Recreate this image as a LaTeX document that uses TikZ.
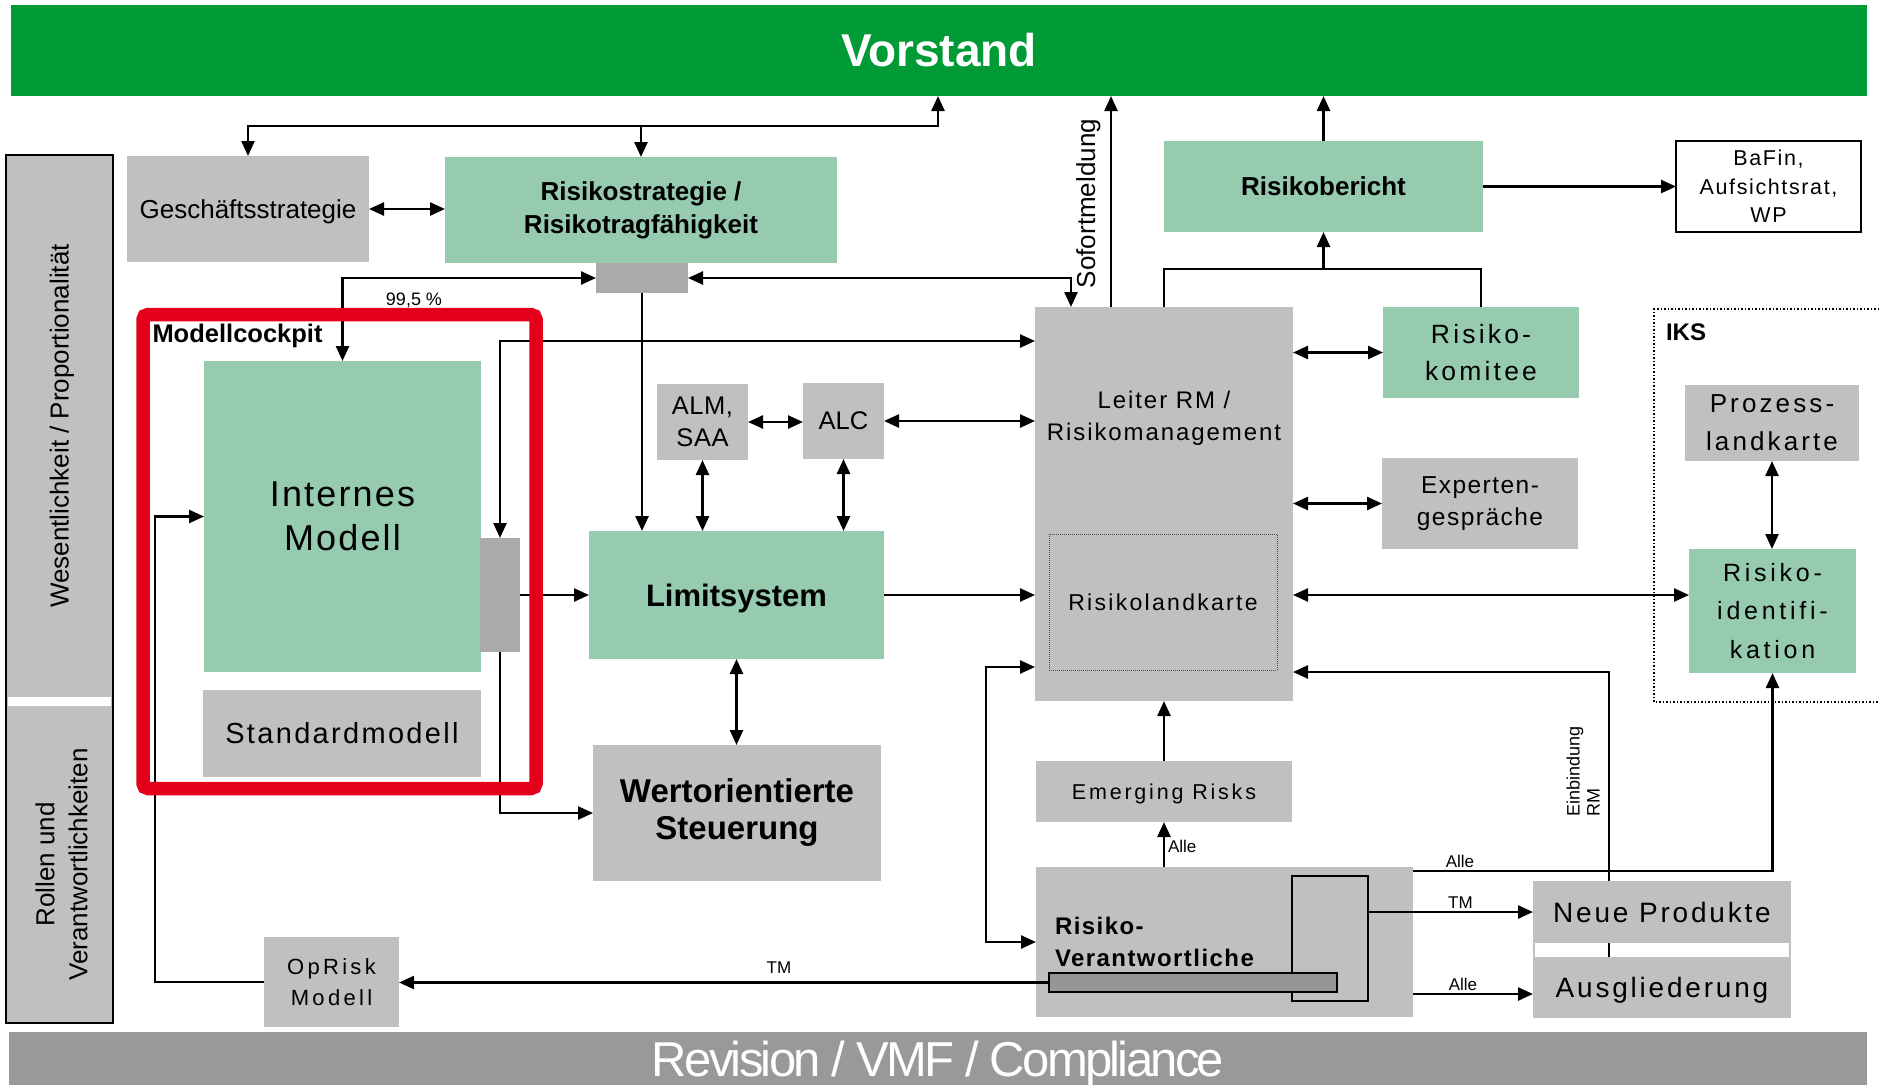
\documentclass[tikz,border=0pt]{standalone}
\usepackage{fontspec}
\setmainfont{Liberation Sans}
\usetikzlibrary{arrows.meta,backgrounds}
\definecolor{vgreen}{RGB}{0,154,54}
\definecolor{lgreen}{RGB}{150,203,176}
\definecolor{lgray}{RGB}{192,192,192}
\definecolor{mgray}{RGB}{170,170,170}
\definecolor{dgray}{RGB}{150,150,150}
\definecolor{rgray}{RGB}{153,153,153}
\definecolor{cred}{RGB}{228,0,27}
\newcommand\myfs[3]{\fontsize{#1pt}{#2pt}\selectfont\addfontfeature{LetterSpace=#3}}
\begin{document}
\begin{tikzpicture}[x=1pt,y=-1pt,
  every node/.style={inner sep=0pt,outer sep=0pt},
  box/.style={anchor=north west,inner sep=0pt,outer sep=0pt,align=center},
  conn/.style={line width=2.5pt,draw=black},
  sarr/.style={conn,-{Triangle[length=15pt,width=13pt]}},
  darr/.style={conn,{Triangle[length=15pt,width=13pt]}-{Triangle[length=15pt,width=13pt]}},
  lbl/.style={font=\myfs{17}{19}{0}}]
\useasboundingbox (0,0) rectangle (1879,1085);

% bars
\node[box,fill=vgreen,minimum width=1856,minimum height=91,text=white,font=\bfseries\myfs{46}{50}{0}] (vorstand) at (11,5) {Vorstand};
\node[box,fill=rgray,minimum width=1858,minimum height=53,text=white,text depth=0pt,font=\myfs{49}{52}{-5.5}] (revision) at (9,1032) {Revision / VMF / Compliance};

% side panel
\node[box,fill=lgray,draw=black,line width=2pt,minimum width=107,minimum height=868] (side) at (6,155) {};
\node[box,fill=white,minimum width=103,minimum height=9] (sidegap) at (8,697) {};
\node[rotate=90,font=\myfs{26}{33}{0}] (wes) at (62,426) {Wesentlichkeit / Proportionalität};
\node[rotate=90,align=center,font=\myfs{26}{33}{0}] (rollen) at (61.5,864.5) {Rollen und\\Verantwortlichkeiten};

% left/middle boxes
\node[box,fill=lgray,minimum width=242,minimum height=106,text depth=0pt,font=\myfs{26}{33}{0}] (gs) at (127,156) {Geschäftsstrategie};
\node[box,fill=lgreen,minimum width=392,minimum height=106,font=\bfseries\myfs{26}{33}{0}] (rs) at (445,157) {Risikostrategie /\\Risikotragfähigkeit};
\node[box,fill=mgray,minimum width=92,minimum height=30] (hub) at (596,263) {};
\node[box,fill=lgreen,minimum width=277,minimum height=311,font=\myfs{36}{44}{6}] (im) at (204,361) {Internes\\Modell};
\node[box,fill=mgray,minimum width=40,minimum height=114] (imr) at (480,538) {};
\node[box,fill=lgray,minimum width=278,minimum height=87,font=\myfs{29}{33}{8}] (sm) at (203,690) {Standardmodell};
\node[anchor=base west,font=\bfseries\myfs{25.5}{30}{0}] (mc) at (152.5,342) {Modellcockpit};
\node[box,fill=lgray,minimum width=91,minimum height=76,font=\myfs{25.5}{32}{2}] (alm) at (657,384) {ALM,\\SAA};
\node[box,fill=lgray,minimum width=81,minimum height=76,font=\myfs{25.5}{32}{0}] (alc) at (803,383) {ALC};
\node[box,fill=lgreen,minimum width=295,minimum height=128,text depth=0pt,font=\bfseries\myfs{31}{36}{0}] (lim) at (589,531) {Limitsystem};
\node[box,fill=lgray,minimum width=288,minimum height=136,font=\bfseries\myfs{33}{37}{0}] (ws) at (593,745) {Wertorientierte\\Steuerung};
\node[box,fill=lgray,minimum width=135,minimum height=90,font=\myfs{22}{31}{15}] (op) at (264,937) {OpRisk\\Modell};

% Risikomanagement
\node[box,fill=lgray,minimum width=258,minimum height=394] (lrm) at (1035,307) {};
\node[anchor=north,align=center,font=\myfs{24}{32}{8}] (lrmt) at (1164,391.5) {Leiter RM /\\Risikomanagement};
\node[box,draw=black!70,densely dotted,line width=1pt,minimum width=228,minimum height=136,font=\myfs{23}{28}{10}] (rlk) at (1049,534) {Risikolandkarte};
\node[box,fill=lgreen,minimum width=319,minimum height=91,font=\bfseries\myfs{26}{30}{0}] (rb) at (1164,141) {Risikobericht};
\node[box,fill=white,draw=black,line width=2pt,minimum width=185,minimum height=91,font=\myfs{21.5}{28.5}{7.5}] (bafin) at (1676,141) {BaFin,\\Aufsichtsrat,\\WP};
\node[box,fill=lgreen,minimum width=196,minimum height=91,font=\myfs{26.5}{37.5}{12}] (rk) at (1383,307) {Risiko-\\komitee};
\node[box,fill=lgray,minimum width=196,minimum height=91,font=\myfs{24.5}{31.5}{6}] (ex) at (1382,458) {Experten-\\gespräche};

% IKS
\draw[dotted,line width=1.5pt] (1879,309) -- (1654,309) -- (1654,702) -- (1879,702);
\node[anchor=base west,font=\bfseries\myfs{24}{28}{0}] (iks) at (1666,340.7) {IKS};
\node[box,fill=lgray,minimum width=174,minimum height=76,font=\myfs{26}{37.7}{12}] (pl) at (1685,385) {Prozess-\\landkarte};
\node[box,fill=lgreen,minimum width=167,minimum height=124,font=\myfs{25}{38.5}{15}] (ri) at (1689,549) {Risiko-\\identifi-\\kation};

% lower right
\node[box,fill=lgray,minimum width=256,minimum height=61,text depth=0pt,font=\myfs{21.5}{26}{13}] (er) at (1036,761) {Emerging Risks};
\node[box,fill=lgray,minimum width=377,minimum height=150] (rv) at (1036,867) {};
\node[box,draw=black,line width=2pt,minimum width=76,minimum height=125] (rvo) at (1292,876) {};
\node[box,fill=dgray,draw=black,line width=2pt,minimum width=288,minimum height=19] (rvb) at (1049,973) {};
\node[anchor=north west,align=left,font=\bfseries\myfs{24}{32}{6}] (rvt) at (1055,917.5) {Risiko-\\Verantwortliche};
\node[box,fill=lgray,minimum width=258,minimum height=62,font=\myfs{28}{32}{10}] (np) at (1533,881) {Neue Produkte};
\node[box,fill=lgray,minimum width=258,minimum height=61,text depth=0pt,font=\myfs{28}{32}{10}] (au) at (1533,957) {Ausgliederung};
\fill[lgray] (1533,943) rectangle (1535,957);
\fill[lgray] (1789,943) rectangle (1791,957);

% labels
\node[anchor=base,font=\myfs{18}{20}{0}] (pct) at (414,305) {99,5 \%};
\node[rotate=90,font=\myfs{26}{30}{0}] (sof) at (1088.5,203.5) {Sofortmeldung};
\node[rotate=90,align=left,font=\myfs{18}{20}{0}] (ein) at (1583,771) {Einbindung\\RM};
\node[anchor=base west,lbl] (lalle1) at (1168,852.7) {Alle};
\node[anchor=base,lbl] (lalle2) at (1460,867.3) {Alle};
\node[anchor=base,lbl] (ltm1) at (1460.5,908) {TM};
\node[anchor=base,lbl] (lalle3) at (1463,990.7) {Alle};
\node[anchor=base,lbl] (ltm2) at (779,973.3) {TM};

% coordinates
\coordinate (cV) at (938,126);
\coordinate (cR) at (1071,278);
\coordinate (cS) at (1111,0);
\coordinate (cB) at (0,269);
\coordinate (cI) at (0,341);
\coordinate (cRI) at (0,595);
\coordinate (cE1) at (1609,672);
\coordinate (cA) at (0,871);
\coordinate (cAu) at (0,994);
\coordinate (cO) at (155,0);
\coordinate (cL1) at (986,667);

% connectors
\draw[darr] (cV |- vorstand.south) -- (cV) -| (gs.north);
\draw[sarr] (cV -| rs.north) -- (rs.north);
\draw[darr] (gs.east) -- (gs.east -| rs.west);
\draw[darr] (hub.west) -| (im.north);
\draw[darr] (hub.east) -| (cR |- lrm.north);
\draw[sarr] (hub.south) -- (hub.south |- lim.north);
\draw[darr] (imr.north) |- (cI -| lrm.west);
\draw[sarr] (imr.east) -- (imr.east -| lim.west);
\draw[sarr] (imr.south) |- (ws.west);
\draw[darr] (lim.south) -- (lim.south |- ws.north);
\draw[darr] (alm.east) -- (alm.east -| alc.west);
\draw[darr] (alc.east) -- (alc.east -| lrm.west);
\draw[darr] (alm.south) -- (alm.south |- lim.north);
\draw[darr] (alc.south) -- (alc.south |- lim.north);
\draw[sarr] (lim.east) -- (lim.east -| lrm.west);
\draw[sarr] (cS |- lrm.north) -- (cS |- vorstand.south);
\draw[conn] (lrm.north) -- (lrm.north |- cB) -- (rk.north |- cB) -- (rk.north);
\draw[sarr] (rb.south |- cB) -- (rb.south);
\draw[sarr] (rb.north) -- (rb.north |- vorstand.south);
\draw[sarr] (rb.east) -- (bafin.west);
\draw[darr] (rk.west -| lrm.east) -- (rk.west);
\draw[darr] (ex.west -| lrm.east) -- (ex.west);
\draw[darr] (cRI -| lrm.east) -- (cRI -| ri.west);
\draw[darr] (pl.south) -- (pl.south |- ri.north);
\begin{scope}[on background layer]
\draw[sarr] (cE1 |- au.north) -- (cE1) -- (cE1 -| lrm.east);
\end{scope}
\draw[sarr] (cA -| rv.east) -| (ri.south);
\draw[sarr] (np.west -| rvo.east) -- (np.west);
\draw[sarr] (cAu -| rv.east) -- (cAu -| au.west);
\draw[sarr] (rvb.west) -- (rvb.west -| op.east);
\draw[sarr] (op.west) -| (cO |- im.west) -- (im.west);
\draw[sarr] (er.north) -- (er.north |- lrm.south);
\draw[sarr] (er.south |- rv.north) -- (er.south);
\draw[darr] (cL1 -| lrm.west) -- (cL1) |- (rv.west);

% Modellcockpit frame
\node[box,draw=cred,line width=13.5pt,rounded corners=5pt,minimum width=393,minimum height=474] (cockpit) at (143,314.5) {};
\end{tikzpicture}
\end{document}
